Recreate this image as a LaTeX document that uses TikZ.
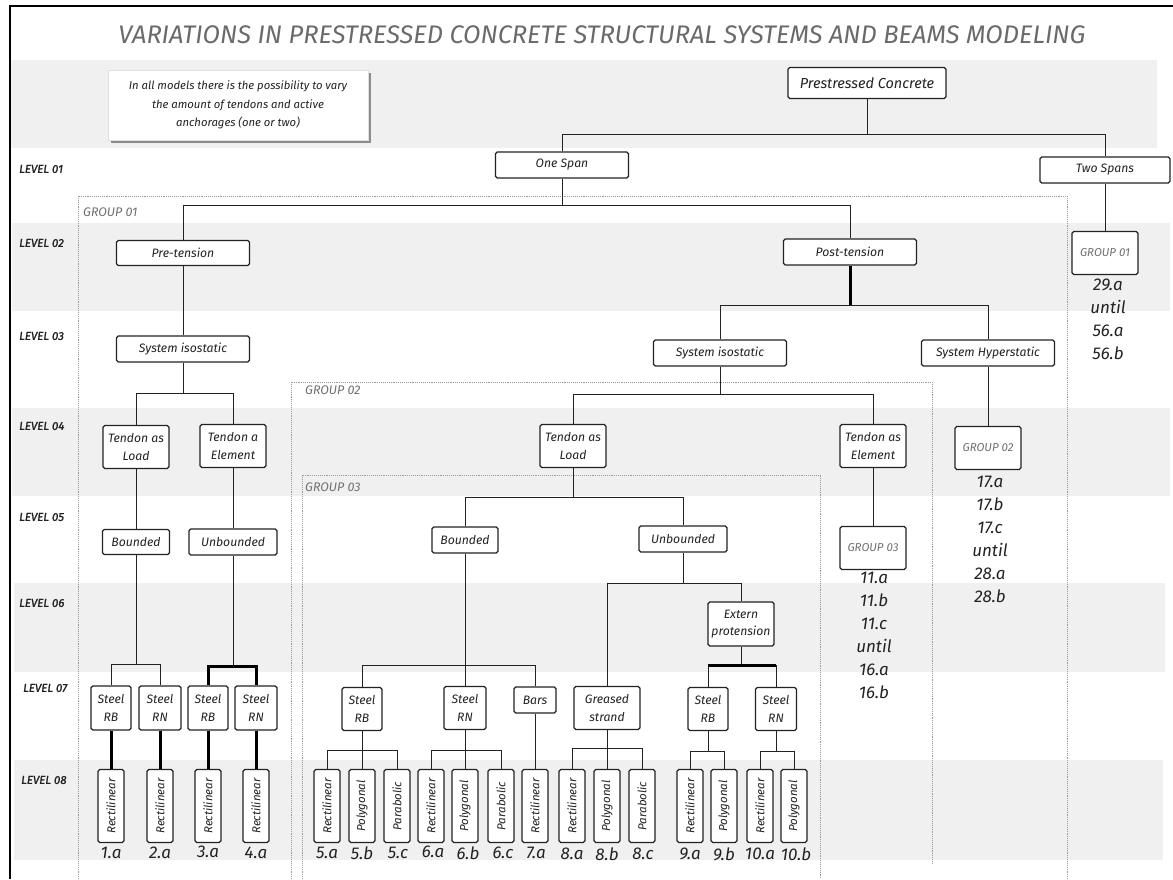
\documentclass[tikz,border=0pt]{standalone}
\usepackage{fontspec}
\setmainfont{Fira Sans}
\newfontfamily\lvlfont[ItalicFeatures={FakeBold=1.4}]{Fira Sans}
\usepackage{tikz}
\usetikzlibrary{shadows,calc}
\definecolor{banda}{HTML}{F0F0F0}
\definecolor{tinta}{HTML}{222222}
\definecolor{titulo}{HTML}{6A6A6A}
\definecolor{grupo}{HTML}{707070}
\tikzstyle{box}=[draw=tinta, line width=1.3pt, rounded corners=1.8pt, fill=white, text=tinta, font=\fontsize{12.2}{17.5}\selectfont\itshape, align=center, inner sep=1pt]
\tikzstyle{edge}=[draw=tinta, line width=0.9pt]
\tikzstyle{heavy}=[draw=black, line width=3pt]

\begin{document}
\begin{tikzpicture}[x=1pt,y=-1pt,
          wide/.style={box,minimum width=133pt,minimum height=26pt},
          sq/.style={box,minimum width=66pt,minimum height=43pt},
          steel/.style={box,minimum width=40pt,minimum height=44pt},
          leaf/.style={box,rotate=90,minimum width=73pt,minimum height=26pt,font=\fontsize{11.5}{13}\selectfont\itshape},
          grpbox/.style={sq,text=grupo,font=\fontsize{11.5}{13}\selectfont\itshape},
          num/.style={text=tinta,inner sep=0pt,font=\fontsize{17}{23}\selectfont\itshape,align=center},
          lvl/.style={anchor=west,text=tinta,inner sep=0pt,font=\fontsize{11.5}{13}\selectfont\lvlfont\itshape},
          glabel/.style={anchor=west,text=grupo,inner sep=0pt,font=\fontsize{12.5}{13}\selectfont\itshape},
          grp/.style={draw=gray!80,densely dotted,line width=0.9pt}]
        \useasboundingbox (0,0) rectangle (1173,879);
        \fill[white] (0,0) rectangle (1173,879);
        \fill[banda] (10,60) rectangle (1157,148);
        \fill[banda] (12,223) rectangle (1170,311);
        \fill[banda] (12,408) rectangle (1170,496);
        \fill[banda] (14,583) rectangle (1165,672);
        \fill[banda] (14,760) rectangle (1163,860);
        \draw[line width=2.2pt] (1173,6) -- (10,6) -- (10,879);
        \draw[grp] (78,879) |- (1067,196) -- (1067,879);
        \draw[grp] (291,879) |- (932,382) -- (932,863);
        \draw[grp] (302,879) |- (820,475) -- (820,879);

        \node [text=titulo,font=\fontsize{25.4}{30}\selectfont\itshape] (titulo) at (602,35) {VARIATIONS IN PRESTRESSED CONCRETE STRUCTURAL SYSTEMS AND BEAMS MODELING};
        \node [draw=gray!25,fill=white,text=tinta,minimum width=260pt,minimum height=70pt,align=center,
               font=\fontsize{11.3}{18.5}\selectfont\itshape,
               drop shadow={shadow xshift=3pt,shadow yshift=-3pt,fill=black!45,opacity=1}] (nota) at (238,105)
               {In all models there is the possibility to vary\\the amount of tendons and active\\anchorages (one or two)};

        \node [lvl] (lv1) at (19,169) {LEVEL 01};
        \node [lvl] (lv2) at (19,243) {LEVEL 02};
        \node [lvl] (lv3) at (19,336) {LEVEL 03};
        \node [lvl] (lv4) at (19,426) {LEVEL 04};
        \node [lvl] (lv5) at (19,517) {LEVEL 05};
        \node [lvl] (lv6) at (19,603) {LEVEL 06};
        \node [lvl] (lv7) at (23,688) {LEVEL 07};
        \node [lvl] (lv8) at (21,780) {LEVEL 08};
        \node [glabel] (lg1) at (83,212) {GROUP 01};
        \node [glabel] (lg2) at (305,390) {GROUP 02};
        \node [glabel] (lg3) at (305,487) {GROUP 03};

        \node [box,minimum width=158pt,minimum height=31pt,font=\fontsize{14.5}{17}\selectfont\itshape] (pc) at (867,83) {Prestressed Concrete};
        \node [wide] (os) at (562,165) {One Span};
        \node [wide,minimum width=130pt] (ts) at (1105,170) {Two Spans};
        \node [wide,minimum height=25pt] (pre) at (183,253) {Pre-tension};
        \node [wide] (post) at (850,252) {Post-tension};
        \node [grpbox] (g1) at (1105,253) {GROUP 01};
        \node [wide] (isoL) at (183,349) {System isostatic};
        \node [wide] (isoM) at (720,353) {System isostatic};
        \node [wide] (hyp) at (988,353) {System Hyperstatic};
        \node [sq] (tlL) at (136,447) {Tendon as\\Load};
        \node [sq] (teL) at (233,446) {Tendon a\\Element};
        \node [sq] (tlM) at (573,446) {Tendon as\\Load};
        \node [sq] (teM) at (873,446) {Tendon as\\Element};
        \node [grpbox] (g2) at (988,448) {GROUP 02};
        \node [box,minimum width=67pt,minimum height=25pt] (bL) at (136,542) {Bounded};
        \node [box,minimum width=88pt,minimum height=26pt] (uL) at (233,542) {Unbounded};
        \node [box,minimum width=66pt,minimum height=26pt] (bM) at (465,540) {Bounded};
        \node [box,minimum width=88pt,minimum height=26pt] (uM) at (683,539) {Unbounded};
        \node [grpbox] (g3) at (873,548) {GROUP 03};
        \node [sq,minimum height=44pt] (ext) at (741,624) {Extern\\protension};
        \node [steel] (s1) at (111,708) {Steel\\RB};
        \node [steel,minimum width=42pt] (s2) at (160,708) {Steel\\RN};
        \node [steel] (s3) at (208,708) {Steel\\RB};
        \node [steel,minimum width=42pt] (s4) at (256,708) {Steel\\RN};
        \node [steel,minimum height=43pt] (s5) at (362,709) {Steel\\RB};
        \node [steel,minimum width=42pt,minimum height=43pt] (s6) at (465,708) {Steel\\RN};
        \node [box,minimum width=42pt,minimum height=26pt] (bars) at (535,700) {Bars};
        \node [sq] (gs) at (607,708) {Greased\\strand};
        \node [steel,minimum height=43pt] (s7) at (708,709) {Steel\\RB};
        \node [steel,minimum width=41pt,minimum height=43pt] (s8) at (776,709) {Steel\\RN};

        \node [leaf] (l1a) at (111,806) {Rectilinear};
        \node [leaf] (l2a) at (160,806) {Rectilinear};
        \node [leaf] (l3a) at (208,806) {Rectilinear};
        \node [leaf] (l4a) at (256,806) {Rectilinear};
        \node [leaf] (l5a) at (327,806) {Rectilinear};
        \node [leaf] (l5b) at (362,806) {Polygonal};
        \node [leaf] (l5c) at (397,806) {Parabolic};
        \node [leaf] (l6a) at (431,806) {Rectilinear};
        \node [leaf] (l6b) at (465,806) {Polygonal};
        \node [leaf] (l6c) at (501,806) {Parabolic};
        \node [leaf] (l7a) at (535,806) {Rectilinear};
        \node [leaf] (l8a) at (572,806) {Rectilinear};
        \node [leaf] (l8b) at (607,806) {Polygonal};
        \node [leaf] (l8c) at (642,806) {Parabolic};
        \node [leaf] (l9a) at (690,806) {Rectilinear};
        \node [leaf] (l9b) at (724,806) {Polygonal};
        \node [leaf] (l10a) at (760,806) {Rectilinear};
        \node [leaf] (l10b) at (794,806) {Polygonal};

        \node [num] (n1a) at (111,853) {1.a};
        \node [num] (n2a) at (160,853) {2.a};
        \node [num] (n3a) at (208,852) {3.a};
        \node [num] (n4a) at (256,853) {4.a};
        \node [num] (n5a) at (327,853) {5.a};
        \node [num] (n5b) at (362,853) {5.b};
        \node [num] (n5c) at (398,853) {5.c};
        \node [num] (n6a) at (433,852) {6.a};
        \node [num] (n6b) at (468,853) {6.b};
        \node [num] (n6c) at (503,853) {6.c};
        \node [num] (n7a) at (536,853) {7.a};
        \node [num] (n8a) at (572,854) {8.a};
        \node [num] (n8b) at (607,854) {8.b};
        \node [num] (n8c) at (643,854) {8.c};
        \node [num] (n9a) at (690,854) {9.a};
        \node [num] (n9b) at (724,854) {9.b};
        \node [num] (n10a) at (760,854) {10.a};
        \node [num] (n10b) at (796,854) {10.b};
        \node [num,anchor=north] (g1list) at (1108,279) {29.a\\until\\56.a\\56.b};
        \node [num,anchor=north] (g2list) at (990,476) {17.a\\17.b\\17.c\\until\\28.a\\28.b};
        \node [num,anchor=north] (g3list) at (874,572) {11.a\\11.b\\11.c\\until\\16.a\\16.b};

        \draw[edge] (pc) -- (pc |- 0,134) -| (os);
        \draw[edge] (pc |- 0,134) -| (ts);
        \draw[edge] (os) -- (os |- 0,205) -| (pre);
        \draw[edge] (os |- 0,205) -| (post);
        \draw[edge] (pre) -- (isoL);
        \draw[heavy] (post) -- (post |- 0,305);
        \draw[edge] (isoM) -- (isoM |- 0,305) -- (hyp |- 0,305) -- (hyp);
        \draw[edge] (isoL) -- (isoL |- 0,393);
        \draw[edge] (tlL) -- (tlL |- 0,393) -- (teL |- 0,393) -- (teL);
        \draw[edge] (isoM) -- (isoM |- 0,394);
        \draw[edge] (tlM) -- (tlM |- 0,394) -- (teM |- 0,394) -- (teM);
        \draw[edge] (ts) -- (g1);
        \draw[edge] (hyp) -- (g2);
        \draw[edge] (teM) -- (g3);
        \draw[edge] (tlL) -- (bL);
        \draw[edge] (teL) -- (uL);
        \draw[edge] (tlM) -- (tlM |- 0,497);
        \draw[edge] (bM) -- (bM |- 0,497) -- (uM |- 0,497) -- (uM);
        \draw[edge] (bL) -- (bL |- 0,664);
        \draw[edge] (s1) -- (s1 |- 0,664) -- (s2 |- 0,664) -- (s2);
        \draw[edge] (uL) -- (uL |- 0,666);
        \draw[heavy] (s3) -- (s3 |- 0,666) -- (s4 |- 0,666) -- (s4);
        \draw[edge] (bM) -- (s6);
        \draw[edge] (s5) -- (s5 |- 0,665) -- (bars |- 0,665) -- (bars);
        \draw[edge] (uM) -- (uM |- 0,583);
        \draw[edge] (gs) -- (gs |- 0,583) -- (ext |- 0,583) -- (ext);
        \draw[edge] (ext) -- (ext |- 0,665);
        \draw[edge] (s7) -- (s7 |- 0,665) -- (s8 |- 0,665) -- (s8);
        \draw[heavy] (s7 |- 0,665) -- (s8 |- 0,665);
        \draw[heavy] (s1) -- (l1a);
        \draw[heavy] (s2) -- (l2a);
        \draw[heavy] (s3) -- (l3a);
        \draw[heavy] (s4) -- (l4a);
        \draw[edge] (s5) -- (l5b);
        \draw[edge] (l5a) -- (l5a |- 0,750) -- (l5c |- 0,750) -- (l5c);
        \draw[edge] (s6) -- (l6b);
        \draw[edge] (l6a) -- (l6a |- 0,750) -- (l6c |- 0,750) -- (l6c);
        \draw[edge] (bars) -- (l7a);
        \draw[edge] (gs) -- (l8b);
        \draw[edge] (l8a) -- (l8a |- 0,748) -- (l8c |- 0,748) -- (l8c);
        \draw[edge] (s7) -- (s7 |- 0,751);
        \draw[edge] (l9a) -- (l9a |- 0,751) -- (l9b |- 0,751) -- (l9b);
        \draw[edge] (s8) -- (s8 |- 0,751);
        \draw[edge] (l10a) -- (l10a |- 0,751) -- (l10b |- 0,751) -- (l10b);
      \end{tikzpicture}
\end{document}
